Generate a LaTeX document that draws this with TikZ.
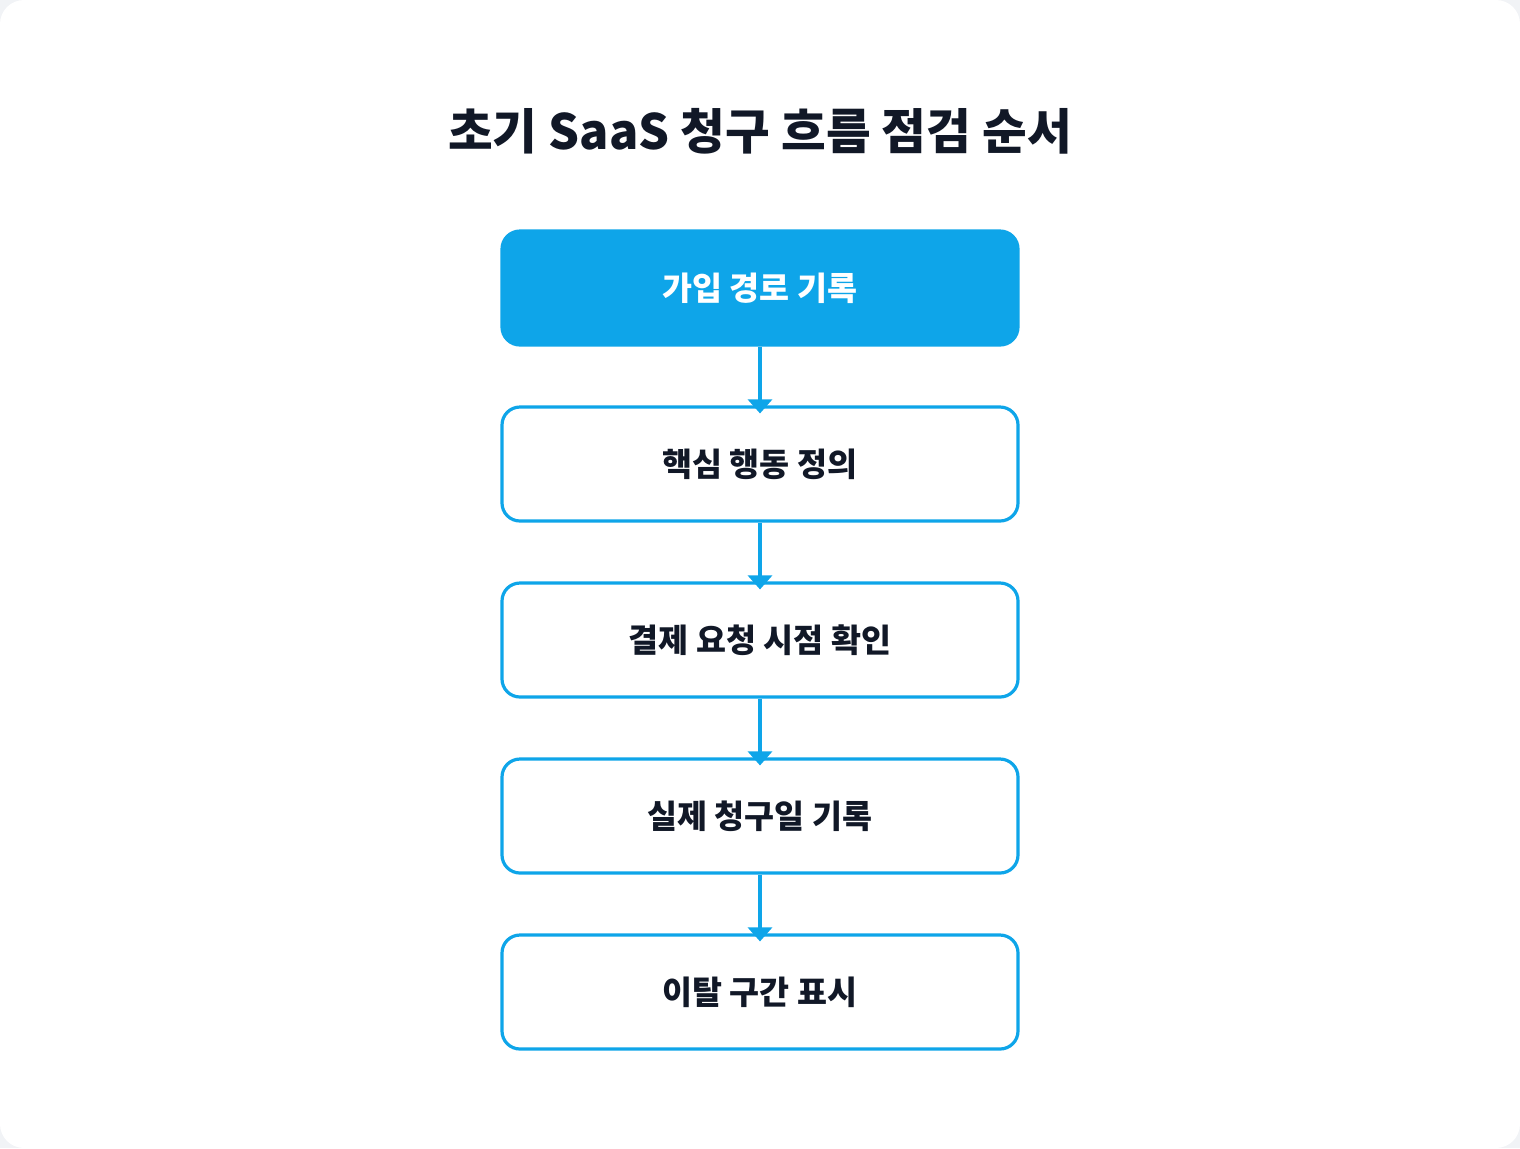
\documentclass[tikz,border=0pt]{standalone}
\usepackage{fontspec}
\setmainfont{Noto Sans CJK KR}
\usetikzlibrary{arrows.meta}
\definecolor{skyblue}{HTML}{0EA5E9}
\definecolor{inkdark}{HTML}{111827}
\definecolor{pagegray}{HTML}{F1F3F6}
\tikzset{
  stepbox/.style={draw=skyblue, line width=1.6pt, rounded corners=9pt, fill=white,
    minimum width=258pt, minimum height=57pt, text=inkdark,
    font=\fontsize{16.3pt}{19pt}\selectfont\bfseries},
  firstbox/.style={stepbox, fill=skyblue, text=white},
  flow/.style={draw=skyblue, line width=1.6pt, -{Triangle[width=12pt,length=7pt]}, shorten >=-4pt}
}
\begin{document}
\begin{tikzpicture}[x=0.5pt, y=-0.5pt]
    % page
    \fill[pagegray] (0,0) rectangle (1520,1148);
    \fill[white, rounded corners=12pt] (0,0) rectangle (1520,1148);
    \useasboundingbox (0,0) rectangle (1520,1148);
    % title
    \node (title) at (760,131) {\fontsize{24.3pt}{29pt}\selectfont\bfseries\color{inkdark}초기 SaaS 청구 흐름 점검 순서};
    % steps
    \node[firstbox] (signup) at (760,288) {가입 경로 기록};
    \node[stepbox] (action) at (760,464) {핵심 행동 정의};
    \node[stepbox] (payreq) at (760,640) {결제 요청 시점 확인};
    \node[stepbox] (billday) at (760,816) {실제 청구일 기록};
    \node[stepbox] (churn) at (760,992) {이탈 구간 표시};
    % arrows
    \draw[flow] (signup) -- (action);
    \draw[flow] (action) -- (payreq);
    \draw[flow] (payreq) -- (billday);
    \draw[flow] (billday) -- (churn);
\end{tikzpicture}
\end{document}
